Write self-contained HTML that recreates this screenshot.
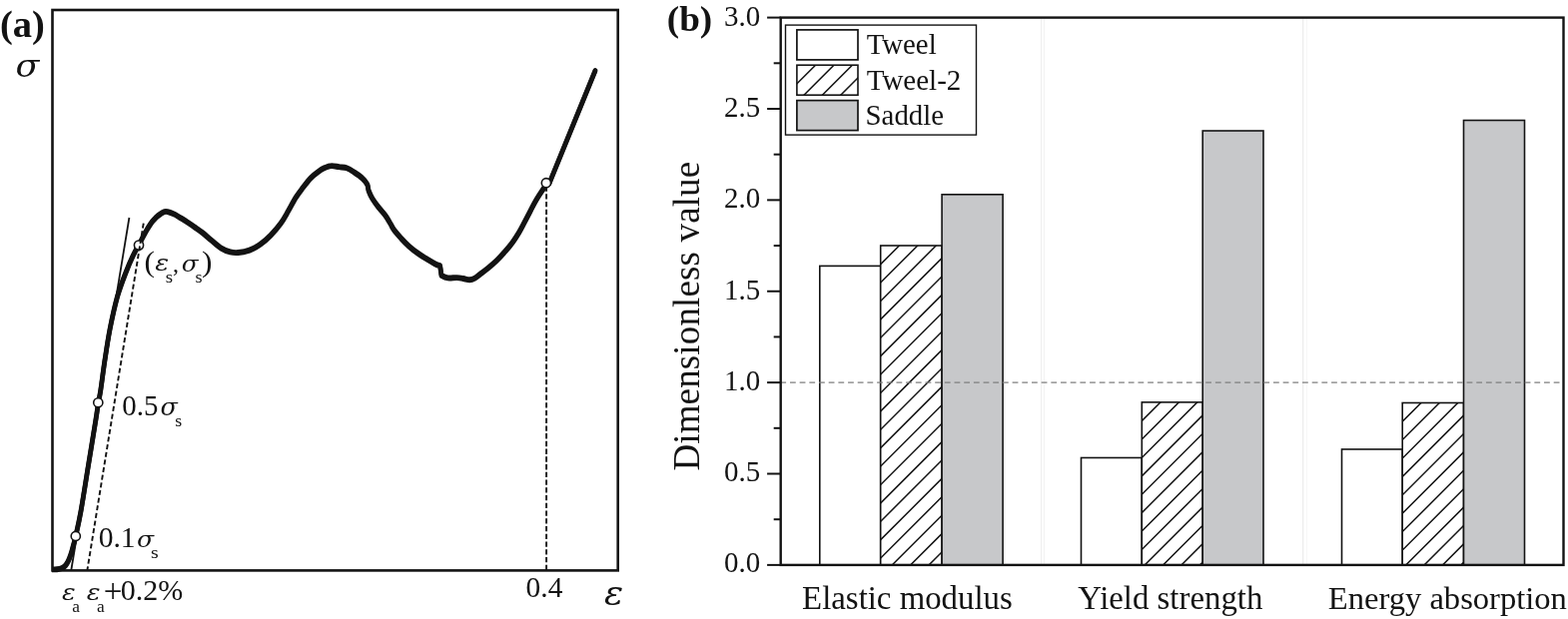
<!DOCTYPE html>
<html><head><meta charset="utf-8"><title>Figure</title>
<style>
html,body{margin:0;padding:0;background:#fff;}
body{width:1570px;height:620px;overflow:hidden;}
svg{display:block;}
text{font-family:"Liberation Serif",serif;fill:#131313;}
.gk{font-family:"DejaVu Serif","Liberation Serif",serif;font-style:italic;}
</style></head>
<body>
<svg width="1570" height="620" viewBox="0 0 1570 620">
<defs>
<clipPath id="c1"><rect x="881.70" y="246.00" width="61.40" height="319.90"/></clipPath>
<clipPath id="c4"><rect x="1143.30" y="402.90" width="60.90" height="163.00"/></clipPath>
<clipPath id="c7"><rect x="1404.20" y="403.50" width="61.30" height="162.40"/></clipPath>
<clipPath id="c99"><rect x="797.90" y="65.20" width="61.10" height="30.00"/></clipPath>
</defs>
<rect x="0" y="0" width="1570" height="620" fill="#fff"/>
<g id="panel-a">
<line x1="71.3" y1="571" x2="129.4" y2="218" stroke="#131313" stroke-width="1.8"/>
<line x1="547.1" y1="571" x2="547.1" y2="183" stroke="#131313" stroke-width="1.9" stroke-dasharray="5.3 2.44"/>
<g fill="none" stroke="#131313" stroke-width="4.7" stroke-linejoin="round"><path d="M52.0,570.4 C52.8,570.4 55.4,570.4 57.0,570.2 C58.6,570.0 60.2,569.8 61.5,569.3 C62.8,568.8 64.0,568.0 65.0,567.0 C66.0,566.0 66.7,564.8 67.5,563.5 C68.3,562.2 68.9,560.8 69.6,559.0 C70.3,557.2 71.1,554.8 71.8,552.5 C72.5,550.2 73.1,547.6 73.8,545.0 C74.5,542.4 74.6,542.5 75.8,537.0 C77.0,531.5 78.9,523.8 81.0,512.0 C83.1,500.2 86.0,481.3 88.5,466.0 C91.0,450.7 94.3,430.5 96.0,420.0 C97.7,409.5 97.7,407.7 98.5,403.0 C99.3,398.3 99.5,398.9 100.6,392.0 C101.7,385.1 103.3,371.8 104.9,361.3 C106.5,350.8 108.1,339.6 110.2,329.0 C112.3,318.4 114.9,306.6 117.4,297.5 C120.0,288.4 122.8,281.2 125.5,274.2 C128.2,267.2 131.2,260.3 133.5,255.5 C135.8,250.7 137.3,248.7 139.0,245.6 C140.7,242.5 141.9,239.6 143.4,236.8 C144.9,234.0 146.5,231.0 148.0,228.6 C149.5,226.2 150.8,224.0 152.2,222.2 C153.6,220.4 155.0,219.1 156.3,217.8 C157.7,216.5 159.1,215.4 160.3,214.6 C161.5,213.8 162.4,213.1 163.3,212.7 C164.2,212.2 164.8,211.9 166.0,211.9 C167.2,211.9 168.8,212.3 170.3,212.8 C171.8,213.3 173.6,214.1 175.2,214.9 C176.8,215.7 178.1,216.7 180.0,217.8 C181.9,219.0 184.1,220.2 186.5,221.8 C188.9,223.4 191.8,225.3 194.5,227.2 C197.2,229.1 199.8,230.8 202.6,233.0 C205.4,235.2 208.4,238.1 211.6,240.7 C214.8,243.3 218.3,246.6 221.5,248.6 C224.7,250.6 227.7,251.7 230.5,252.4 C233.3,253.1 235.3,253.3 238.5,253.0 C241.7,252.7 246.1,252.0 249.8,250.6 C253.5,249.2 257.1,247.3 260.6,244.8 C264.1,242.3 267.6,239.4 271.0,235.8 C274.4,232.2 278.4,227.5 281.3,223.5 C284.2,219.5 286.1,215.8 288.5,211.6 C290.9,207.4 293.6,202.1 296.0,198.2 C298.4,194.3 300.7,191.4 303.2,188.1 C305.7,184.8 308.4,181.1 311.0,178.4 C313.6,175.7 316.3,173.6 318.7,171.9 C321.1,170.2 323.0,169.1 325.2,168.1 C327.4,167.1 329.2,166.2 331.6,166.1 C334.0,165.9 336.8,166.8 339.4,167.2 C342.0,167.6 344.5,167.4 347.1,168.3 C349.7,169.2 352.2,170.9 354.8,172.6 C357.4,174.3 360.5,176.4 362.6,178.4 C364.8,180.4 366.6,182.7 367.7,184.8 C368.8,187.0 368.3,188.9 369.2,191.3 C370.1,193.7 371.2,196.2 372.9,199.0 C374.6,201.8 377.2,205.3 379.4,208.1 C381.5,210.9 383.9,213.2 385.8,215.8 C387.7,218.4 389.2,221.1 390.6,223.5 C392.1,225.9 392.6,227.7 394.5,230.3 C396.4,232.9 399.4,236.2 401.9,239.0 C404.4,241.8 406.9,244.3 409.7,246.8 C412.5,249.3 415.7,251.8 418.7,253.9 C421.7,256.1 424.9,258.0 427.7,259.7 C430.5,261.4 433.4,263.1 435.5,264.2 C437.6,265.3 440.6,266.1 440.6,266.1 C440.6,266.1 442.0,275.8 442.0,275.8 C442.0,275.8 445.8,278.0 448.4,278.4 C451.0,278.8 454.8,278.0 457.4,278.1 C460.0,278.2 461.8,278.6 463.9,279.0 C466.0,279.4 468.4,280.4 470.3,280.3 C472.2,280.2 473.8,279.5 475.5,278.6 C477.2,277.7 478.5,276.3 480.6,274.7 C482.7,273.1 485.5,271.2 488.3,268.9 C491.1,266.6 494.3,263.9 497.3,261.0 C500.3,258.1 503.7,254.3 506.4,251.2 C509.1,248.1 511.4,245.3 513.6,242.2 C515.8,239.1 517.9,235.8 519.8,232.6 C521.7,229.4 523.3,226.2 525.1,222.8 C526.9,219.4 528.7,215.9 530.6,212.2 C532.5,208.5 534.8,204.1 536.8,200.6 C538.8,197.1 540.6,194.3 542.6,191.4 C544.6,188.5 547.6,184.5 548.6,183.1" transform="translate(0,-0.6)"/><path d="M52.0,570.4 C52.8,570.4 55.4,570.4 57.0,570.2 C58.6,570.0 60.2,569.8 61.5,569.3 C62.8,568.8 64.0,568.0 65.0,567.0 C66.0,566.0 66.7,564.8 67.5,563.5 C68.3,562.2 68.9,560.8 69.6,559.0 C70.3,557.2 71.1,554.8 71.8,552.5 C72.5,550.2 73.1,547.6 73.8,545.0 C74.5,542.4 74.6,542.5 75.8,537.0 C77.0,531.5 78.9,523.8 81.0,512.0 C83.1,500.2 86.0,481.3 88.5,466.0 C91.0,450.7 94.3,430.5 96.0,420.0 C97.7,409.5 97.7,407.7 98.5,403.0 C99.3,398.3 99.5,398.9 100.6,392.0 C101.7,385.1 103.3,371.8 104.9,361.3 C106.5,350.8 108.1,339.6 110.2,329.0 C112.3,318.4 114.9,306.6 117.4,297.5 C120.0,288.4 122.8,281.2 125.5,274.2 C128.2,267.2 131.2,260.3 133.5,255.5 C135.8,250.7 137.3,248.7 139.0,245.6 C140.7,242.5 141.9,239.6 143.4,236.8 C144.9,234.0 146.5,231.0 148.0,228.6 C149.5,226.2 150.8,224.0 152.2,222.2 C153.6,220.4 155.0,219.1 156.3,217.8 C157.7,216.5 159.1,215.4 160.3,214.6 C161.5,213.8 162.4,213.1 163.3,212.7 C164.2,212.2 164.8,211.9 166.0,211.9 C167.2,211.9 168.8,212.3 170.3,212.8 C171.8,213.3 173.6,214.1 175.2,214.9 C176.8,215.7 178.1,216.7 180.0,217.8 C181.9,219.0 184.1,220.2 186.5,221.8 C188.9,223.4 191.8,225.3 194.5,227.2 C197.2,229.1 199.8,230.8 202.6,233.0 C205.4,235.2 208.4,238.1 211.6,240.7 C214.8,243.3 218.3,246.6 221.5,248.6 C224.7,250.6 227.7,251.7 230.5,252.4 C233.3,253.1 235.3,253.3 238.5,253.0 C241.7,252.7 246.1,252.0 249.8,250.6 C253.5,249.2 257.1,247.3 260.6,244.8 C264.1,242.3 267.6,239.4 271.0,235.8 C274.4,232.2 278.4,227.5 281.3,223.5 C284.2,219.5 286.1,215.8 288.5,211.6 C290.9,207.4 293.6,202.1 296.0,198.2 C298.4,194.3 300.7,191.4 303.2,188.1 C305.7,184.8 308.4,181.1 311.0,178.4 C313.6,175.7 316.3,173.6 318.7,171.9 C321.1,170.2 323.0,169.1 325.2,168.1 C327.4,167.1 329.2,166.2 331.6,166.1 C334.0,165.9 336.8,166.8 339.4,167.2 C342.0,167.6 344.5,167.4 347.1,168.3 C349.7,169.2 352.2,170.9 354.8,172.6 C357.4,174.3 360.5,176.4 362.6,178.4 C364.8,180.4 366.6,182.7 367.7,184.8 C368.8,187.0 368.3,188.9 369.2,191.3 C370.1,193.7 371.2,196.2 372.9,199.0 C374.6,201.8 377.2,205.3 379.4,208.1 C381.5,210.9 383.9,213.2 385.8,215.8 C387.7,218.4 389.2,221.1 390.6,223.5 C392.1,225.9 392.6,227.7 394.5,230.3 C396.4,232.9 399.4,236.2 401.9,239.0 C404.4,241.8 406.9,244.3 409.7,246.8 C412.5,249.3 415.7,251.8 418.7,253.9 C421.7,256.1 424.9,258.0 427.7,259.7 C430.5,261.4 433.4,263.1 435.5,264.2 C437.6,265.3 440.6,266.1 440.6,266.1 C440.6,266.1 442.0,275.8 442.0,275.8 C442.0,275.8 445.8,278.0 448.4,278.4 C451.0,278.8 454.8,278.0 457.4,278.1 C460.0,278.2 461.8,278.6 463.9,279.0 C466.0,279.4 468.4,280.4 470.3,280.3 C472.2,280.2 473.8,279.5 475.5,278.6 C477.2,277.7 478.5,276.3 480.6,274.7 C482.7,273.1 485.5,271.2 488.3,268.9 C491.1,266.6 494.3,263.9 497.3,261.0 C500.3,258.1 503.7,254.3 506.4,251.2 C509.1,248.1 511.4,245.3 513.6,242.2 C515.8,239.1 517.9,235.8 519.8,232.6 C521.7,229.4 523.3,226.2 525.1,222.8 C526.9,219.4 528.7,215.9 530.6,212.2 C532.5,208.5 534.8,204.1 536.8,200.6 C538.8,197.1 540.6,194.3 542.6,191.4 C544.6,188.5 547.6,184.5 548.6,183.1" transform="translate(0,0.6)"/><path d="M550,183.6L596,70.8" stroke-linecap="round" transform="translate(0,-0.3)"/><path d="M550,183.6L596,70.8" stroke-linecap="round" transform="translate(0,0.3)"/></g>
<rect x="52.5" y="10" width="566.2" height="561.4" fill="none" stroke="#131313" stroke-width="2.6"/>
<g fill="#fff" stroke="#131313" stroke-width="1.6"><circle cx="75.8" cy="537" r="4.6"/><circle cx="98.3" cy="403.3" r="4.6"/><circle cx="139" cy="245.6" r="4.6"/><circle cx="546.9" cy="183.2" r="4.6"/></g>
<line x1="87.4" y1="571" x2="143.9" y2="222.6" stroke="#131313" stroke-width="1.9" stroke-dasharray="5 2.74" stroke-dashoffset="1.35"/>
<text transform="translate(-0.11,36.73) scale(1.0382,1)" font-size="37.11" font-weight="bold">(a)</text>
<text transform="translate(15.44,77.47) scale(1.0965,1)" font-size="31.88" style="font-family:'DejaVu Serif', 'Liberation Serif', serif" font-style="italic">σ</text>
<text><tspan x="144.59" y="271.75" font-size="30.00" textLength="10.45" lengthAdjust="spacingAndGlyphs">(</tspan><tspan x="155.15" y="271.42" font-size="22.71" textLength="13.90" lengthAdjust="spacingAndGlyphs" class="gk">ε</tspan><tspan x="165.67" y="283.05" font-size="16.69" textLength="7.32" lengthAdjust="spacingAndGlyphs">s</tspan><tspan x="172.90" y="271.60" font-size="24.00">,</tspan><tspan x="181.67" y="271.62" font-size="22.87" textLength="16.80" lengthAdjust="spacingAndGlyphs" class="gk">σ</tspan><tspan x="195.50" y="283.05" font-size="16.69" textLength="7.07" lengthAdjust="spacingAndGlyphs">s</tspan><tspan x="202.05" y="271.75" font-size="30.00" textLength="10.45" lengthAdjust="spacingAndGlyphs">)</tspan></text>
<text><tspan x="122.30" y="415.61" font-size="29.27" textLength="36.11" lengthAdjust="spacingAndGlyphs">0.5</tspan><tspan x="160.54" y="415.81" font-size="23.25" textLength="17.31" lengthAdjust="spacingAndGlyphs" class="gk">σ</tspan><tspan x="175.31" y="427.35" font-size="16.69" textLength="6.94" lengthAdjust="spacingAndGlyphs">s</tspan></text>
<text><tspan x="98.67" y="547.81" font-size="29.56">0.1</tspan><tspan x="137.06" y="547.92" font-size="22.87" textLength="17.10" lengthAdjust="spacingAndGlyphs" class="gk">σ</tspan><tspan x="151.03" y="559.35" font-size="16.69" textLength="7.70" lengthAdjust="spacingAndGlyphs">s</tspan></text>
<text><tspan x="62.06" y="601.32" font-size="23.08" textLength="13.68" lengthAdjust="spacingAndGlyphs" class="gk">ε</tspan><tspan x="72.39" y="612.65" font-size="16.69" textLength="7.71" lengthAdjust="spacingAndGlyphs">a</tspan></text>
<text><tspan x="86.66" y="601.32" font-size="23.08" textLength="13.79" lengthAdjust="spacingAndGlyphs" class="gk">ε</tspan><tspan x="97.09" y="612.65" font-size="16.69" textLength="7.71" lengthAdjust="spacingAndGlyphs">a</tspan><tspan x="103.75" y="603.12" font-size="33.63" textLength="18.65" lengthAdjust="spacingAndGlyphs">+</tspan><tspan x="120.85" y="601.41" font-size="29.56" textLength="62.45" lengthAdjust="spacingAndGlyphs">0.2%</tspan></text>
<text transform="translate(526.57,597.70) scale(0.9915,1)" font-size="29.71">0.4</text>
<text transform="translate(605.11,606.25) scale(1.0770,1)" font-size="33.23" style="font-family:'DejaVu Serif', 'Liberation Serif', serif" font-style="italic">ε</text>
</g>
<g id="panel-b">
<line x1="1042.6" y1="17.6" x2="1042.6" y2="565.9" stroke="#ededed" stroke-width="1"/>
<line x1="1045.4" y1="17.6" x2="1045.4" y2="565.9" stroke="#f1f1f1" stroke-width="1"/>
<line x1="1304.7" y1="17.6" x2="1304.7" y2="565.9" stroke="#ececec" stroke-width="1.2"/>
<line x1="1308.6" y1="17.6" x2="1308.6" y2="565.9" stroke="#f6f6f6" stroke-width="1"/>
<rect x="820.80" y="266.40" width="60.90" height="299.50" fill="#fff" stroke="#131313" stroke-width="1.6"/>
<rect x="881.70" y="246.00" width="61.40" height="319.90" fill="#fff"/>
<path d="M879.70,248.30L945.10,182.90M879.70,266.70L945.10,201.30M879.70,285.10L945.10,219.70M879.70,303.50L945.10,238.10M879.70,321.90L945.10,256.50M879.70,340.30L945.10,274.90M879.70,358.70L945.10,293.30M879.70,377.10L945.10,311.70M879.70,395.50L945.10,330.10M879.70,413.90L945.10,348.50M879.70,432.30L945.10,366.90M879.70,450.70L945.10,385.30M879.70,469.10L945.10,403.70M879.70,487.50L945.10,422.10M879.70,505.90L945.10,440.50M879.70,524.30L945.10,458.90M879.70,542.70L945.10,477.30M879.70,561.10L945.10,495.70M879.70,579.50L945.10,514.10M879.70,597.90L945.10,532.50M879.70,616.30L945.10,550.90" stroke="#131313" stroke-width="1.5" fill="none" clip-path="url(#c1)"/>
<rect x="881.70" y="246.00" width="61.40" height="319.90" fill="none" stroke="#131313" stroke-width="1.6"/>
<rect x="943.10" y="194.80" width="61.00" height="371.10" fill="#c7c8ca" stroke="#131313" stroke-width="1.6"/>
<rect x="1082.50" y="458.50" width="60.80" height="107.40" fill="#fff" stroke="#131313" stroke-width="1.6"/>
<rect x="1143.30" y="402.90" width="60.90" height="163.00" fill="#fff"/>
<path d="M1141.30,405.20L1206.20,340.30M1141.30,423.60L1206.20,358.70M1141.30,442.00L1206.20,377.10M1141.30,460.40L1206.20,395.50M1141.30,478.80L1206.20,413.90M1141.30,497.20L1206.20,432.30M1141.30,515.60L1206.20,450.70M1141.30,534.00L1206.20,469.10M1141.30,552.40L1206.20,487.50M1141.30,570.80L1206.20,505.90M1141.30,589.20L1206.20,524.30M1141.30,607.60L1206.20,542.70M1141.30,626.00L1206.20,561.10" stroke="#131313" stroke-width="1.5" fill="none" clip-path="url(#c4)"/>
<rect x="1143.30" y="402.90" width="60.90" height="163.00" fill="none" stroke="#131313" stroke-width="1.6"/>
<rect x="1204.20" y="131.00" width="60.80" height="434.90" fill="#c7c8ca" stroke="#131313" stroke-width="1.6"/>
<rect x="1343.50" y="450.00" width="60.70" height="115.90" fill="#fff" stroke="#131313" stroke-width="1.6"/>
<rect x="1404.20" y="403.50" width="61.30" height="162.40" fill="#fff"/>
<path d="M1402.20,405.80L1467.50,340.50M1402.20,424.20L1467.50,358.90M1402.20,442.60L1467.50,377.30M1402.20,461.00L1467.50,395.70M1402.20,479.40L1467.50,414.10M1402.20,497.80L1467.50,432.50M1402.20,516.20L1467.50,450.90M1402.20,534.60L1467.50,469.30M1402.20,553.00L1467.50,487.70M1402.20,571.40L1467.50,506.10M1402.20,589.80L1467.50,524.50M1402.20,608.20L1467.50,542.90M1402.20,626.60L1467.50,561.30" stroke="#131313" stroke-width="1.5" fill="none" clip-path="url(#c7)"/>
<rect x="1404.20" y="403.50" width="61.30" height="162.40" fill="none" stroke="#131313" stroke-width="1.6"/>
<rect x="1465.50" y="120.50" width="61.00" height="445.40" fill="#c7c8ca" stroke="#131313" stroke-width="1.6"/>
<line x1="781.7" y1="383.1" x2="1565.5" y2="383.1" stroke="#7f7f7f" stroke-width="1.4" stroke-dasharray="5.8 3.88" stroke-dashoffset="0.4"/>
<rect x="781.7" y="17.6" width="783.80" height="548.30" fill="none" stroke="#131313" stroke-width="2.4"/>
<line x1="768.10" y1="565.90" x2="781.7" y2="565.90" stroke="#131313" stroke-width="2"/>
<text transform="translate(725.05,573.40) scale(0.9657,1)" font-size="30.00">0.0</text>
<line x1="774.70" y1="520.21" x2="781.7" y2="520.21" stroke="#131313" stroke-width="2"/>
<line x1="768.10" y1="474.52" x2="781.7" y2="474.52" stroke="#131313" stroke-width="2"/>
<text transform="translate(725.05,482.13) scale(0.9657,1)" font-size="30.00">0.5</text>
<line x1="774.70" y1="428.82" x2="781.7" y2="428.82" stroke="#131313" stroke-width="2"/>
<line x1="768.10" y1="383.13" x2="781.7" y2="383.13" stroke="#131313" stroke-width="2"/>
<text transform="translate(725.05,390.87) scale(0.9657,1)" font-size="30.00">1.0</text>
<line x1="774.70" y1="337.44" x2="781.7" y2="337.44" stroke="#131313" stroke-width="2"/>
<line x1="768.10" y1="291.75" x2="781.7" y2="291.75" stroke="#131313" stroke-width="2"/>
<text transform="translate(725.05,299.60) scale(0.9657,1)" font-size="30.00">1.5</text>
<line x1="774.70" y1="246.06" x2="781.7" y2="246.06" stroke="#131313" stroke-width="2"/>
<line x1="768.10" y1="200.37" x2="781.7" y2="200.37" stroke="#131313" stroke-width="2"/>
<text transform="translate(725.05,208.33) scale(0.9657,1)" font-size="30.00">2.0</text>
<line x1="774.70" y1="154.68" x2="781.7" y2="154.68" stroke="#131313" stroke-width="2"/>
<line x1="768.10" y1="108.98" x2="781.7" y2="108.98" stroke="#131313" stroke-width="2"/>
<text transform="translate(725.05,117.07) scale(0.9657,1)" font-size="30.00">2.5</text>
<line x1="774.70" y1="63.29" x2="781.7" y2="63.29" stroke="#131313" stroke-width="2"/>
<line x1="768.10" y1="17.60" x2="781.7" y2="17.60" stroke="#131313" stroke-width="2"/>
<text transform="translate(725.05,25.80) scale(0.9657,1)" font-size="30.00">3.0</text>
<rect x="786.5" y="25.1" width="191" height="110" fill="#fff" stroke="#131313" stroke-width="1.4"/>
<rect x="797.9" y="29.9" width="61.1" height="30" fill="#fff" stroke="#131313" stroke-width="1.7"/>
<rect x="797.90" y="65.20" width="61.10" height="30.00" fill="#fff"/>
<path d="M795.90,67.50L861.00,2.40M795.90,85.90L861.00,20.80M795.90,104.30L861.00,39.20M795.90,122.70L861.00,57.60M795.90,141.10L861.00,76.00M795.90,159.50L861.00,94.40" stroke="#131313" stroke-width="1.5" fill="none" clip-path="url(#c99)"/>
<rect x="797.90" y="65.20" width="61.10" height="30.00" fill="none" stroke="#131313" stroke-width="1.6"/>
<rect x="797.9" y="100.6" width="61.1" height="30" fill="#c7c8ca" stroke="#131313" stroke-width="1.7"/>
<text transform="translate(867.70,54.40)" font-size="28.80">Tweel</text>
<text transform="translate(867.70,89.80)" font-size="29.00">Tweel-2</text>
<text transform="translate(866.60,125.20)" font-size="28.80">Saddle</text>
<text transform="translate(667.77,30.62) scale(1.0286,1)" font-size="36.17" font-weight="bold">(b)</text>
<text transform="translate(700,471.6) rotate(-90)" font-size="37" letter-spacing="0.14">Dimensionless value</text>
<text transform="translate(803.11,609.60)" font-size="32.83">Elastic modulus</text>
<text transform="translate(1079.25,609.60)" font-size="32.84">Yield strength</text>
<text transform="translate(1329.81,609.60)" font-size="32.57">Energy absorption</text>
</g>
</svg>
</body></html>
